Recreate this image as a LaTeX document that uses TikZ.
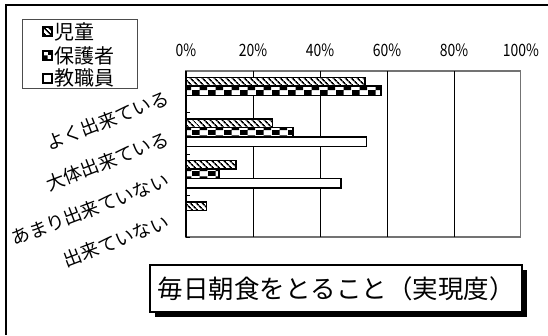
\documentclass[tikz,border=0pt]{standalone}
\usepackage{fontspec}
\newfontfamily\jpfont{Noto Sans CJK JP}
\newfontfamily\pctfont[FakeStretch=0.82]{Noto Sans CJK JP}
\usetikzlibrary{patterns.meta,shadows}

\tikzdeclarepattern{
	name=parentcheck,
	type=uncolored,
	bottom left={(0pt,0pt)},
	top right={(16pt,10pt)},
	tile size={(16pt,10pt)},
	code={
		\pgfpathrectangle{\pgfpointorigin}{\pgfpoint{8pt}{5pt}}
		\pgfpathrectangle{\pgfpoint{8pt}{5pt}}{\pgfpoint{8pt}{5pt}}
		\pgfusepath{fill}
	}
}

\tikzset{
	bar/.style={draw=black, line width=1.3pt, fill=white},
	kidsbar/.style={bar, postaction={pattern={Lines[angle=-45,distance=4pt,line width=1.7pt]}}},
	parentbar/.style={bar, postaction={pattern=parentcheck}},
	staffbar/.style={bar},
	gridline/.style={draw=black, line width=0.8pt},
	pctlabel/.style={font=\pctfont\fontsize{17pt}{17pt}\selectfont, inner sep=0pt},
	catlabel/.style={font=\jpfont\fontsize{18.5pt}{18.5pt}\selectfont, rotate=21, anchor=east, inner sep=0pt},
	keytext/.style={font=\jpfont\fontsize{20pt}{20pt}\selectfont, anchor=west, inner sep=0pt},
	titlebox/.style={draw=black, line width=1.3pt, fill=white, minimum width=372pt, minimum height=47pt,
		font=\jpfont\fontsize{25.5pt}{25.5pt}\selectfont,
		drop shadow={shadow xshift=5pt, shadow yshift=-5pt, fill=black, opacity=1}}
}

\begin{document}
\begin{tikzpicture}[x=1pt, y=-1pt]
			\useasboundingbox (0,0) rectangle (548,335);
			\draw[line width=1.5pt] (548,5) -- (6,5) -- (6,335);

			% legend
			\draw[line width=1pt, draw=black!70] (22,19) rectangle (137,88);
			\filldraw[kidsbar] (43,27) rectangle (52,36);
			\node[keytext] (kids) at (54,32) {児童};
			\filldraw[parentbar] (43,51) rectangle (52,60);
			\node[keytext] (parents) at (54,56) {保護者};
			\filldraw[staffbar] (43,74) rectangle (52,83);
			\node[keytext] (staff) at (54,78) {教職員};

			% scale
			\node[pctlabel] (p0) at (186,50) {0\%};
			\node[pctlabel] (p20) at (253,50) {20\%};
			\node[pctlabel] (p40) at (320,50) {40\%};
			\node[pctlabel] (p60) at (387,50) {60\%};
			\node[pctlabel] (p80) at (454,50) {80\%};
			\node[pctlabel] (p100) at (521,50) {100\%};

			% plot area
			\draw[line width=1.2pt, draw=black!55] (186,71) rectangle (520.5,237);
			\draw[gridline] (253,71) -- (253,237);
			\draw[gridline] (320,71) -- (320,237);
			\draw[gridline] (387,71) -- (387,237);
			\draw[gridline] (454,71) -- (454,237);
			\draw[line width=1.2pt] (186,71) -- (186,237);
			\draw[line width=0.8pt] (186,112.5) -- (190,112.5);
			\draw[line width=0.8pt] (186,154) -- (190,154);
			\draw[line width=0.8pt] (186,195.5) -- (190,195.5);
			\draw[line width=0.8pt] (186,237) -- (190,237);

			% bars
			\filldraw[kidsbar] (186,77.5) rectangle (365,86);
			\filldraw[parentbar] (186,86) rectangle (381,95.5);

			\filldraw[kidsbar] (186,119) rectangle (272.5,127.5);
			\filldraw[parentbar] (186,127.5) rectangle (293,137);
			\filldraw[staffbar] (186,137) rectangle (366.5,146.5);

			\filldraw[kidsbar] (186,160.5) rectangle (236,169);
			\filldraw[parentbar] (186,169) rectangle (219,178.5);
			\filldraw[staffbar] (186,178.5) rectangle (341,188);

			\filldraw[kidsbar] (186,202) rectangle (206.5,210.5);

			% categories
			\node[catlabel] (good) at (168,97) {よく出来ている};
			\node[catlabel] (mostly) at (168,138) {大体出来ている};
			\node[catlabel] (little) at (168,179.5) {あまり出来ていない};
			\node[catlabel] (none) at (168,221) {出来ていない};

			\node[titlebox] (title) at (336,288.5) {毎日朝食をとること（実現度）};

\end{tikzpicture}
\end{document}
